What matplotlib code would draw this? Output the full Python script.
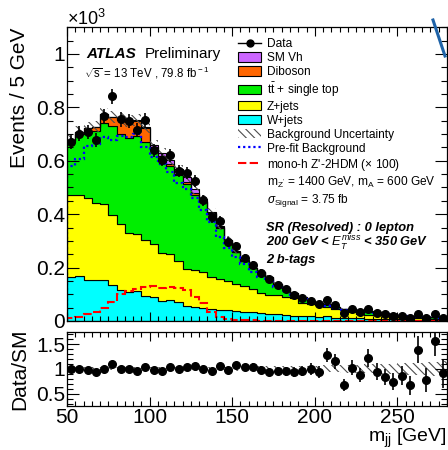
import numpy as np
import matplotlib
matplotlib.use('Agg')
import matplotlib.pyplot as plt
from matplotlib.patches import Patch
from matplotlib.lines import Line2D
from matplotlib.ticker import MultipleLocator

plt.rcParams['font.family'] = 'Liberation Sans'
plt.rcParams['mathtext.fontset'] = 'custom'
plt.rcParams['mathtext.rm'] = 'Liberation Sans'
plt.rcParams['mathtext.it'] = 'Liberation Sans:italic'
plt.rcParams['mathtext.bf'] = 'Liberation Sans:bold'
plt.rcParams['hatch.linewidth'] = 0.8

# m_jj binning, 5 GeV bins from 50 to 280
edges = np.arange(50, 285, 5)

# event counts in units of 10^3 per bin
data = [0.670, 0.702, 0.708, 0.677, 0.766, 0.841, 0.755, 0.749, 0.714, 0.751,
        0.639, 0.604, 0.621, 0.562, 0.554, 0.524, 0.452, 0.388, 0.375, 0.296,
        0.280, 0.237, 0.209, 0.181, 0.156, 0.135, 0.119, 0.097, 0.085, 0.076,
        0.062, 0.079, 0.060, 0.031, 0.044, 0.035, 0.044, 0.031, 0.026, 0.020,
        0.019, 0.012, 0.025, 0.010, 0.025, 0.010]
wjets = [0.163, 0.168, 0.155, 0.153, 0.152, 0.133, 0.115, 0.110, 0.112, 0.095,
         0.088, 0.075, 0.078, 0.070, 0.055, 0.052, 0.048, 0.045, 0.042, 0.040,
         0.038, 0.035, 0.032, 0.030, 0.028, 0.026, 0.022, 0.020, 0.018, 0.017,
         0.016, 0.020, 0.013, 0.012, 0.012, 0.010, 0.009, 0.008, 0.008, 0.007,
         0.006, 0.005, 0.005, 0.004, 0.004, 0.003]
zjets = [0.308, 0.303, 0.307, 0.287, 0.286, 0.263, 0.250, 0.220, 0.215, 0.207,
         0.202, 0.178, 0.172, 0.155, 0.140, 0.138, 0.134, 0.120, 0.116, 0.110,
         0.102, 0.097, 0.088, 0.076, 0.071, 0.070, 0.068, 0.065, 0.050, 0.045,
         0.042, 0.033, 0.032, 0.028, 0.020, 0.018, 0.014, 0.014, 0.013, 0.010,
         0.009, 0.008, 0.007, 0.006, 0.005, 0.005]
ttbar = [0.200, 0.228, 0.244, 0.270, 0.304, 0.334, 0.334, 0.357, 0.364, 0.367,
         0.351, 0.354, 0.331, 0.320, 0.319, 0.283, 0.262, 0.234, 0.190, 0.150,
         0.117, 0.091, 0.077, 0.076, 0.063, 0.041, 0.032, 0.016, 0.018, 0.012,
         0.007, 0.008, 0.006, 0.005, 0.010, 0.011, 0.012, 0.010, 0.009, 0.009,
         0.006, 0.005, 0.006, 0.003, 0.007, 0.003]
diboson = [0.006, 0.010, 0.016, 0.018, 0.032, 0.035, 0.055, 0.060, 0.058, 0.052,
           0.012, 0.010, 0.008, 0.007, 0.006, 0.005, 0.005, 0.004, 0.004, 0.003,
           0.003, 0.003, 0.002, 0.002, 0.002, 0.002, 0.002, 0.002, 0.002, 0.001,
           0.001, 0.001, 0.001, 0.001, 0.001, 0.001, 0.001, 0.001, 0.001, 0.001,
           0.001, 0.000, 0.000, 0.000, 0.000, 0.000]
smvh = [0.000, 0.000, 0.000, 0.000, 0.000, 0.000, 0.001, 0.002, 0.003, 0.004,
        0.006, 0.012, 0.014, 0.016, 0.018, 0.016, 0.008, 0.005, 0.003, 0.002,
        0.002, 0.002, 0.001, 0.001, 0.001, 0.001, 0.001, 0.001, 0.001, 0.001,
        0.000, 0.000, 0.000, 0.000, 0.000, 0.000, 0.000, 0.000, 0.000, 0.000,
        0.000, 0.000, 0.000, 0.000, 0.000, 0.000]
prefit = [0.579, 0.608, 0.655, 0.662, 0.690, 0.677, 0.692, 0.688, 0.699, 0.652,
          0.614, 0.589, 0.558, 0.515, 0.494, 0.459, 0.415, 0.371, 0.315, 0.272,
          0.240, 0.215, 0.185, 0.165, 0.148, 0.128, 0.112, 0.096, 0.082, 0.070,
          0.062, 0.056, 0.048, 0.043, 0.040, 0.036, 0.033, 0.030, 0.028, 0.024,
          0.020, 0.017, 0.016, 0.012, 0.014, 0.010]
signal = [0.010, 0.015, 0.025, 0.035, 0.050, 0.070, 0.100, 0.113, 0.118, 0.126,
          0.131, 0.124, 0.126, 0.124, 0.116, 0.091, 0.066, 0.035, 0.016, 0.006,
          0.003, 0.002, 0.002, 0.001, 0.001, 0.001, 0.001, 0.001, 0.001, 0.001,
          0.001, 0.001, 0.001, 0.001, 0.001, 0.001, 0.001, 0.001, 0.001, 0.001,
          0.001, 0.001, 0.001, 0.001, 0.001, 0.001]
# relative background uncertainty
bkg_unc = [0.03, 0.03, 0.03, 0.03, 0.03, 0.03, 0.03, 0.03, 0.03, 0.03,
           0.03, 0.03, 0.03, 0.03, 0.03, 0.035, 0.035, 0.035, 0.04, 0.04,
           0.04, 0.045, 0.045, 0.05, 0.05, 0.05, 0.055, 0.055, 0.06, 0.06,
           0.065, 0.07, 0.07, 0.075, 0.08, 0.085, 0.09, 0.09, 0.10, 0.10,
           0.11, 0.12, 0.12, 0.13, 0.14, 0.15]

samples = [('W+jets', wjets, '#00ffff'),
           ('Z+jets', zjets, '#ffff00'),
           (r't$\bar{\rm t}$ + single top', ttbar, '#00ee00'),
           ('Diboson', diboson, '#ff6600'),
           ('SM Vh', smvh, '#cc66ff')]

data = np.array(data)
centers = 0.5 * (edges[:-1] + edges[1:])
data_err = np.sqrt(data * 1000) / 1000
unc = np.array(bkg_unc)

fig = plt.figure(figsize=(4.48, 4.5), dpi=100)
ax = fig.add_axes([0.1496, 0.2867, 0.848, 0.6527])
rax = fig.add_axes([0.1496, 0.0978, 0.848, 0.1651], sharex=ax)

# stacked backgrounds
base = np.zeros(len(data))
for name, vals, col in samples:
    top = base + np.array(vals)
    ax.stairs(top, edges, baseline=base, fill=True, facecolor=col,
              edgecolor='black', linewidth=0.8)
    base = top
total = base

ax.stairs(total * (1 + unc), edges, baseline=total * (1 - unc), fill=True,
          facecolor='none', edgecolor='0.3', hatch='\\\\\\\\', linewidth=0)
ax.stairs(prefit, edges, color='blue', linewidth=1.6, linestyle=(0, (1, 1.3)))
ax.stairs(signal, edges, color='red', linewidth=1.5, linestyle=(0, (4, 1.6)))
ax.errorbar(centers, data, yerr=data_err, fmt='o', color='black', ms=5.5,
            elinewidth=1.2, capsize=0)

ax.set_xlim(50, 280)
ax.set_ylim(0, 1.1)
ax.set_ylabel('Events / 5 GeV', fontsize=15, loc='top')
ax.yaxis.set_label_coords(-0.10, 1.0)
ax.yaxis.set_major_locator(MultipleLocator(0.2))
ax.yaxis.set_minor_locator(MultipleLocator(0.05))
ax.yaxis.set_major_formatter(plt.FuncFormatter(lambda v, p: '0' if v == 0 else ('1' if abs(v - 1) < 1e-6 else f'{v:.1f}')))
ax.xaxis.set_major_locator(MultipleLocator(50))
ax.xaxis.set_minor_locator(MultipleLocator(5))
ax.tick_params(axis='x', labelbottom=False)

for a in (ax, rax):
    a.tick_params(which='both', direction='in', top=True, right=True,
                  labelsize=15, width=0.8)
    a.tick_params(axis='y', which='major', length=8.5, pad=1.5)
    a.tick_params(axis='y', which='minor', length=4.3)
    a.tick_params(axis='x', which='major', length=6.5, pad=1.5)
    a.tick_params(axis='x', which='minor', length=3.3)
    for s in a.spines.values():
        s.set_linewidth(0.9)

# ratio panel
ratio = data / total
ratio_err = data_err / total
rax.stairs(1 + unc, edges, baseline=1 - unc, fill=True, facecolor='none',
           edgecolor='0.3', hatch='\\\\\\\\', linewidth=0)
rax.errorbar(centers, ratio, yerr=ratio_err, fmt='o', color='black', ms=5.5,
             elinewidth=1.2, capsize=0)
rax.set_ylim(0.25, 1.75)
rax.yaxis.set_major_locator(MultipleLocator(0.5))
rax.yaxis.set_minor_locator(MultipleLocator(0.1))
rax.yaxis.set_major_formatter(plt.FuncFormatter(lambda v, p: '1' if abs(v - 1) < 1e-6 else f'{v:.1f}'))
rax.set_ylabel('Data/SM', fontsize=15)
rax.yaxis.set_label_coords(-0.10, 0.5)
rax.set_xlabel(r'm$_{\rm jj}$ [GeV]', fontsize=14, loc='right', va='top')
rax.xaxis.set_label_coords(1.0, -0.28)

# legend
handles = [Line2D([], [], color='black', marker='o', ms=5, lw=1)]
labels = ['Data']
for name, vals, col in samples[::-1]:
    handles.append(Patch(facecolor=col, edgecolor='black', linewidth=0.8))
    labels.append(name)
handles.append(Patch(facecolor='none', edgecolor='0.3', hatch='\\\\\\\\', linewidth=0))
labels.append('Background Uncertainty')
handles.append(Line2D([], [], color='blue', lw=1.6, linestyle=(0, (1, 1.3))))
labels.append('Pre-fit Background')
handles.append(Line2D([], [], color='red', lw=1.5, linestyle=(0, (4, 1.6))))
labels.append(r"mono-h Z'-2HDM ($\times$ 100)")
handles.append(Patch(facecolor='none', edgecolor='none'))
labels.append(r"m$_{\rm Z'}$ = 1400 GeV, m$_{\rm A}$ = 600 GeV")
handles.append(Patch(facecolor='none', edgecolor='none'))
labels.append(r"$\sigma_{\rm Signal}$ = 3.75 fb")
ax.legend(handles, labels, loc='upper left', bbox_to_anchor=(0.45, 0.963),
          frameon=False, fontsize=8.6, handlelength=1.95, handleheight=0.85,
          handletextpad=0.45, labelspacing=0.17, borderpad=0, borderaxespad=0)

ax.text(0.05, 0.91, 'ATLAS', transform=ax.transAxes, fontsize=11,
        fontweight='bold', fontstyle='italic', va='center')
ax.text(0.205, 0.91, 'Preliminary', transform=ax.transAxes, fontsize=11,
        va='center')
ax.text(0.045, 0.845, r'$\sqrt{\rm s}$ = 13 TeV , 79.8 fb$^{\rm -1}$',
        transform=ax.transAxes, fontsize=8.3, va='center')
ax.text(0.525, 0.318, 'SR (Resolved) : 0 lepton', transform=ax.transAxes,
        fontsize=9.3, fontweight='bold', fontstyle='italic', va='center')
ax.text(0.525, 0.265, r'200 GeV < $\mathbf{\it{E}_{\it{T}}^{\it{miss}}}$ < 350 GeV',
        transform=ax.transAxes, fontsize=9.3, fontweight='bold',
        fontstyle='italic', va='center')
ax.text(0.525, 0.208, '2 b-tags', transform=ax.transAxes, fontsize=9.3,
        fontweight='bold', fontstyle='italic', va='center')

fig.text(0.149, 0.957, r'$\times$10$^{3}$', fontsize=13, va='center')
fig.add_artist(Line2D([433 / 448, 445 / 448], [1 - 20 / 450, 1 - 56 / 450],
                      color='#1f63a8', lw=2.2))

fig.savefig('out.png', dpi=100)
